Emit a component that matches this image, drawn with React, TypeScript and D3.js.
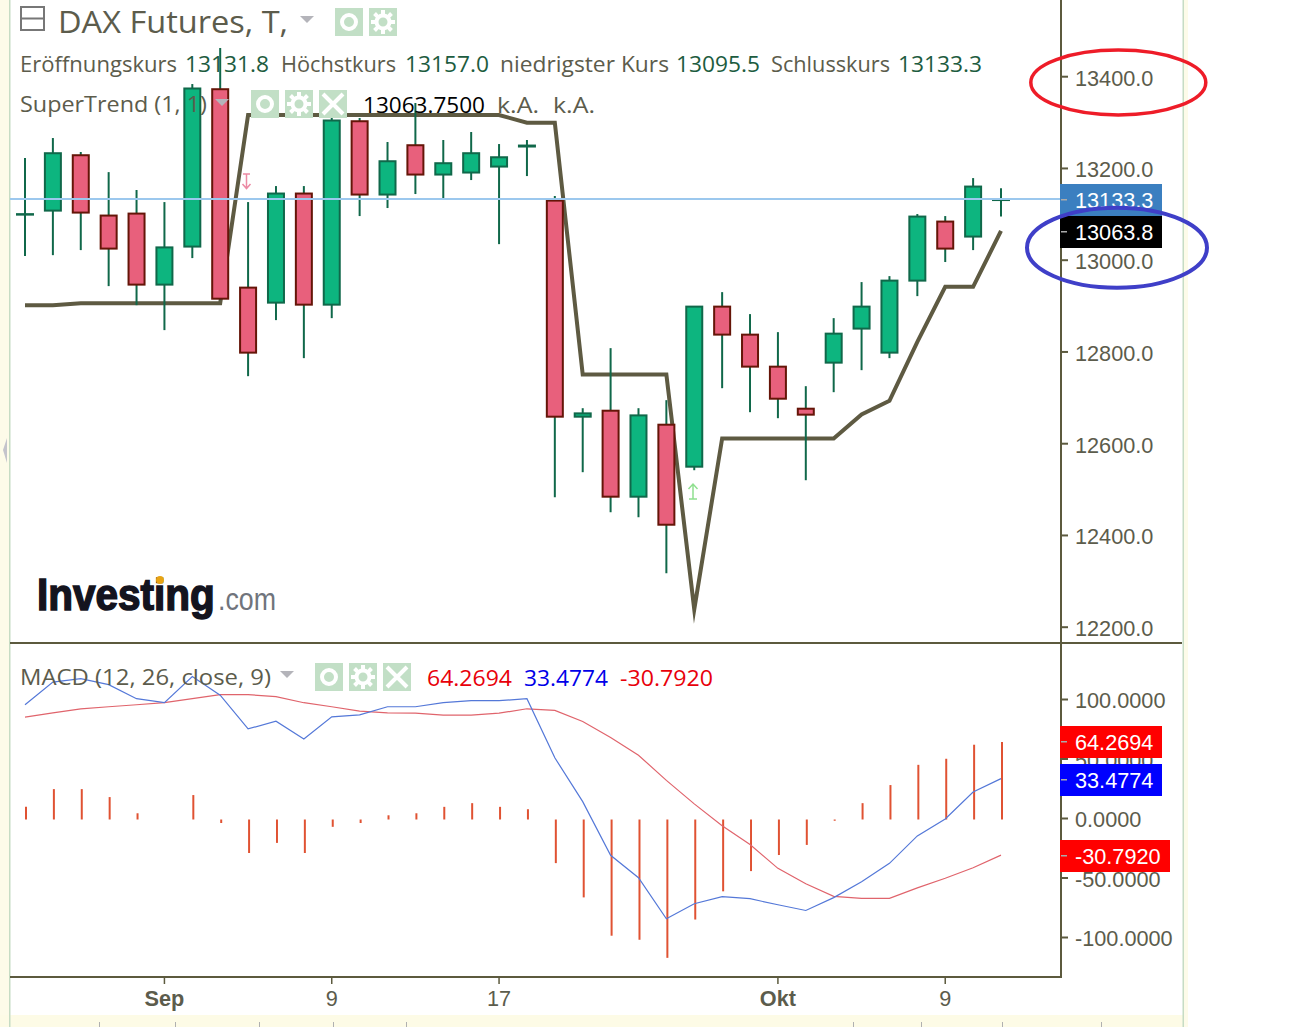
import React from "react";
import { scalePoint, scaleLinear, line, range } from "d3";

// daily candles
const opens = [13099.5, 13107, 13229.9, 13098.4, 13102.7, 12945.7, 13028.6, 13373.8, 12941.3, 12906.4, 13146.4, 12902, 13304, 13142, 13251.7, 13185.6, 13190, 13203, 13246.7, 13131, 12657.8, 12673, 12483.4, 12642.5, 12548.8, 12899.9, 12838.8, 12769, 12677.4, 12775.6, 12849.8, 12797.4, 12954.4, 13085.3, 13050.4, 13131.8];
const highs = [13222.7, 13266.3, 13235.8, 13192, 13153, 13126.7, 13384, 13462.6, 13126.7, 13161.6, 13161.6, 13316.5, 13310, 13257.6, 13342.7, 13262, 13279.4, 13253.2, 13262, 13139.8, 12677.4, 12808.3, 12677.4, 12694.9, 12899.9, 12930.4, 12882.5, 12843.2, 12725.4, 12873.7, 12952.3, 12965.3, 13100.6, 13096.2, 13179, 13157];
const lows = [13009, 13011, 13022, 12943.5, 12902, 12847.6, 13004.6, 12913, 12747.2, 12869.4, 12786.5, 12873.7, 13096.2, 13113.7, 13144.2, 13135.5, 13174.7, 13035, 13183.4, 12483.4, 12537.9, 12450.6, 12439.7, 12317.6, 12542.2, 12721, 12668.7, 12655.6, 12520.4, 12712.3, 12760.3, 12786.5, 12921.7, 12996, 13022, 13095.5];
const closes = [13101.5, 13234.3, 13102.7, 13024.2, 12945.7, 13029, 13375.4, 12915, 12797.4, 13146.4, 12902, 13305.6, 13142, 13216.8, 13185.6, 13212.5, 13234.3, 13225.5, 13251, 12657.8, 12667.2, 12483.4, 12662.8, 12422.3, 12899.9, 12836.7, 12766.9, 12697, 12662.2, 12841, 12899.9, 12956.6, 13096.2, 13024.2, 13161.6, 13133.3];
const superTrend = [12902, 12902, 12906.4, 12906.4, 12906.4, 12906.4, 12906.4, 12906.4, 13316.5, 13316.5, 13316.5, 13316.5, 13316.5, 13316.5, 13316.5, 13316.5, 13316.5, 13316.5, 13299.7, 13299.7, 12751, 12751, 12751, 12751, 12239, 12611.4, 12611.4, 12611.4, 12611.4, 12611.4, 12663.7, 12693.4, 12822, 12942, 12942, 13063.8];

const macdLine = [95.6, 114.6, 117.6, 112.5, 100.7, 97.3, 119.3, 103.6, 75.3, 81.8, 66.8, 85.4, 87.1, 93.9, 93.9, 97.3, 99, 99, 100.7, 51, 14.2, -30.9, -49.8, -84.3, -71.6, -65.7, -67.4, -72.5, -77.3, -66.5, -53.2, -37.7, -14.6, -0.4, 22.2, 33.4774];
const signalLine = [85.2, 88.8, 92.2, 93.9, 95.6, 97.3, 100.7, 104.1, 104.1, 102.4, 97.3, 93.9, 90.3, 88.8, 88.5, 86.9, 86.9, 88.5, 92.2, 90.8, 81.5, 68, 53.2, 32, 12.3, -6.1, -21.9, -41.9, -54.9, -65.4, -67.1, -67.1, -58.3, -50.2, -41.4, -30.792];
const histogram = [9.8, 24.7, 24.7, 18, 4.4, 0, 19.7, -3.8, -29, -20.5, -29, -7, -3.8, 2.7, 4.4, 9.8, 12.9, 9.8, 7.8, -37.5, -66.3, -98.5, -101.9, -117.1, -84.9, -61.2, -44.2, -30.7, -22.2, -1.9, 12.9, 28.1, 45.1, 50.2, 62, 64.2694];

const priceTicks = [13400, 13200, 13000, 12800, 12600, 12400, 12200];
const macdTicks = [100, 50, 0, -50, -100];
const dateTickIndexes = [5, 11, 17, 27, 33];
const dateTickLabels = ["Sep", "9", "17", "Okt", "9"];
const legendLabels = ["Eröffnungskurs", "13131.8", "Höchstkurs", "13157.0", "niedrigster Kurs", "13095.5", "Schlusskurs", "13133.3"];

const UI_FONT = "'Open Sans', 'Noto Sans', sans-serif";
const AXIS_FONT = "'Liberation Sans', Arial, sans-serif";
const OLIVE = "#5c5a3e";
const LABEL = "#5c5c4c";
const GREEN = "#0db57f";
const GREEN_EDGE = "#10684a";
const RED = "#e8607c";
const RED_EDGE = "#651508";
const ICON = "#c2dfc6";

const PANE_RIGHT = 1061;
const LEGEND_X = [20, 185, 281, 405, 500, 676, 771, 898];
const LEGEND_W = [157, 84, 115, 84, 169, 84, 119, 84];
const STRIP_MARKS = [99, 175, 259, 333, 406, 853, 921, 1002, 1101];

const indexes = range(opens.length);

const x = scalePoint<number>().domain(indexes).range([25, 1001]);
const yPrice = scaleLinear().domain([12200, 13400]).range([627.2, 76.7]);
const yMacd = scaleLinear().domain([-100, 100]).range([937.5, 699.5]);

const trendPath = line<number>().x((_, i) => x(i)!).y((d) => yPrice(d));
const macdPath = line<number>().x((_, i) => x(i)!).y((d) => yMacd(d));

function IconSquare({ x: left, y, kind }: { x: number; y: number; kind: "eye" | "gear" | "close" }) {
  const cx = left + 14;
  const cy = y + 14;
  return (
    <g>
      <rect x={left} y={y} width={28} height={28} fill={ICON} />
      {kind === "eye" && <circle cx={cx} cy={cy} r={7} fill="none" stroke="#fff" strokeWidth={4} />}
      {kind === "gear" && (
        <g>
          <circle cx={cx} cy={cy} r={6.5} fill="none" stroke="#fff" strokeWidth={4} />
          {range(8).map((k) => (
            <rect key={k} x={cx - 2} y={cy - 12} width={4} height={5} fill="#fff" transform={`rotate(${k * 45} ${cx} ${cy})`} />
          ))}
        </g>
      )}
      {kind === "close" && (
        <path d={`M${left + 4} ${y + 4}L${left + 24} ${y + 24}M${left + 24} ${y + 4}L${left + 4} ${y + 24}`} stroke="#fff" strokeWidth={4} />
      )}
    </g>
  );
}

function Caret({ x: left, y }: { x: number; y: number }) {
  return <path d={`M${left} ${y}h14l-7 7z`} fill="#b4b4ba" />;
}

function PriceTag({ y, width, fill, text }: { y: number; width: number; fill: string; text: string }) {
  return (
    <g>
      <rect x={1060} y={y} width={width} height={32} fill={fill} />
      <rect x={1061} y={y + 15} width={6} height={1.5} fill="#aaa" />
      <text x={1075} y={y + 24} fontSize={21.7} fontFamily={AXIS_FONT} fill="#fff">{text}</text>
    </g>
  );
}

export default function App() {
  return (
    <svg
      width={1301}
      height={1027}
      style={{ position: "absolute", left: 0, top: 0, display: "block", background: "#fff" }}
    >
      {/* page surround */}
      <rect x={0} y={0} width={9} height={1027} fill="#fdfbe9" />
      <rect x={0} y={1015} width={1185} height={12} fill="#fdfbe6" />
      <rect x={1184} y={0} width={4} height={1027} fill="#fdfbe9" />
      <rect x={9} y={0} width={1.5} height={1027} fill="#c6dcc4" />
      <rect x={1182.5} y={0} width={1.5} height={1027} fill="#c6dcc4" />
      <path d="M3 450L7 438V463z" fill="#c4c4cc" />
      {STRIP_MARKS.map((m) => (
        <rect key={m} x={m} y={1022} width={1} height={5} fill="#b0b0b0" />
      ))}

      {/* logo */}
      <text transform="translate(37 610) scale(1 1.08)" fontFamily={AXIS_FONT} fontWeight={700} fontSize={40.5} fill="#14141e" stroke="#14141e" strokeWidth={1.4}>
        Investing
      </text>
      <text x={218} y={610} fontFamily={AXIS_FONT} fontSize={31} fill="#70747c" textLength={58} lengthAdjust="spacingAndGlyphs">
        .com
      </text>
      <circle cx={160} cy={580} r={4} fill="#e8a414" />

      {/* price pane */}
      <path d={trendPath(superTrend)!} fill="none" stroke="#5e5a42" strokeWidth={4} strokeLinejoin="miter" strokeMiterlimit={12} />
      {indexes.map((i) => {
        const up = closes[i] >= opens[i];
        const top = yPrice(Math.max(opens[i], closes[i]));
        const bottom = yPrice(Math.min(opens[i], closes[i]));
        return (
          <g key={i}>
            <line x1={x(i)} x2={x(i)} y1={yPrice(highs[i])} y2={yPrice(lows[i])} stroke={GREEN_EDGE} strokeWidth={2} />
            <rect
              x={x(i)! - 8}
              y={top + 0.5}
              width={16}
              height={Math.max(bottom - top - 1, 0.5)}
              fill={up ? GREEN : RED}
              stroke={up ? GREEN_EDGE : RED_EDGE}
              strokeWidth={2}
            />
          </g>
        );
      })}
      <line x1={10} x2={PANE_RIGHT + 6} y1={yPrice(closes[35])} y2={yPrice(closes[35])} stroke="#9cc8ee" strokeWidth={2} />

      {/* signal arrows */}
      <path d="M243 174h7M246.5 174v14M242.5 184l4 4.5 4-4.5" fill="none" stroke="#ec8aa4" strokeWidth={1.5} />
      <path d="M689 499h8M693 499v-14M688.5 489l4.5-5 4.5 5" fill="none" stroke="#90e090" strokeWidth={1.5} />

      {/* legends */}
      <path d="M21 7h23v23h-23zM21 18.5h23" fill="none" stroke="#777" strokeWidth={2} />
      <text x={58} y={33} fontFamily={UI_FONT} fontSize={31} fill={LABEL} textLength={230} lengthAdjust="spacingAndGlyphs">DAX Futures, T,</text>
      <Caret x={300} y={16} />
      <IconSquare x={335} y={8} kind="eye" />
      <IconSquare x={369} y={8} kind="gear" />
      {legendLabels.map((d, i) => (
        <text key={i} x={LEGEND_X[i]} y={72} fontFamily={UI_FONT} fontSize={22} fill={i % 2 ? "#1d5c40" : LABEL} textLength={LEGEND_W[i]} lengthAdjust="spacingAndGlyphs">{d}</text>
      ))}
      <text x={20} y={112} fontFamily={UI_FONT} fontSize={22} fill={LABEL} textLength={187} lengthAdjust="spacingAndGlyphs">SuperTrend (1, 1)</text>
      <Caret x={215} y={99} />
      <IconSquare x={251} y={90} kind="eye" />
      <IconSquare x={285} y={90} kind="gear" />
      <IconSquare x={319} y={90} kind="close" />
      <text x={363} y={113} fontFamily={UI_FONT} fontSize={22} fill="#000" textLength={122} lengthAdjust="spacingAndGlyphs">13063.7500</text>
      <text x={497} y={113} fontFamily={UI_FONT} fontSize={22} fill={LABEL} textLength={42} lengthAdjust="spacingAndGlyphs">k.A.</text>
      <text x={553} y={113} fontFamily={UI_FONT} fontSize={22} fill={LABEL} textLength={42} lengthAdjust="spacingAndGlyphs">k.A.</text>

      {/* macd pane */}
      {indexes.filter((i) => histogram[i] !== 0).map((i) => (
        <line key={i} x1={x(i)! + 1} x2={x(i)! + 1} y1={yMacd(0) + 1} y2={yMacd(histogram[i])} stroke="#e05232" strokeWidth={2} />
      ))}
      <path d={macdPath(signalLine)!} fill="none" stroke="#e0646c" strokeWidth={1.2} />
      <path d={macdPath(macdLine)!} fill="none" stroke="#5478d8" strokeWidth={1.2} />
      <text x={20} y={685} fontFamily={UI_FONT} fontSize={22} fill={LABEL} textLength={251} lengthAdjust="spacingAndGlyphs">MACD (12, 26, close, 9)</text>
      <Caret x={280} y={671} />
      <IconSquare x={315} y={663} kind="eye" />
      <IconSquare x={349} y={663} kind="gear" />
      <IconSquare x={383} y={663} kind="close" />
      <text x={427} y={686} fontFamily={UI_FONT} fontSize={22} fill="#e8000a" textLength={85} lengthAdjust="spacingAndGlyphs">64.2694</text>
      <text x={524} y={686} fontFamily={UI_FONT} fontSize={22} fill="#0000e8" textLength={84} lengthAdjust="spacingAndGlyphs">33.4774</text>
      <text x={620} y={686} fontFamily={UI_FONT} fontSize={22} fill="#e8000a" textLength={93} lengthAdjust="spacingAndGlyphs">-30.7920</text>

      {/* frame */}
      <line x1={PANE_RIGHT} x2={PANE_RIGHT} y1={0} y2={978} stroke={OLIVE} strokeWidth={2} />
      <line x1={10} x2={1182} y1={643} y2={643} stroke={OLIVE} strokeWidth={2} />
      <line x1={10} x2={PANE_RIGHT + 1} y1={977} y2={977} stroke={OLIVE} strokeWidth={2} />

      {/* right axes */}
      {priceTicks.map((t) => (
        <g key={t}>
          <line x1={PANE_RIGHT} x2={PANE_RIGHT + 7} y1={yPrice(t)} y2={yPrice(t)} stroke={OLIVE} strokeWidth={2} />
          <text x={1075} y={yPrice(t) + 9} fontFamily={AXIS_FONT} fontSize={21.7} fill={LABEL}>{t.toFixed(1)}</text>
        </g>
      ))}
      {macdTicks.map((t) => (
        <g key={t}>
          <line x1={PANE_RIGHT} x2={PANE_RIGHT + 7} y1={yMacd(t)} y2={yMacd(t)} stroke={OLIVE} strokeWidth={2} />
          <text x={1075} y={yMacd(t) + 8.5} fontFamily={AXIS_FONT} fontSize={21.7} fill={LABEL}>{t.toFixed(4)}</text>
        </g>
      ))}
      <PriceTag y={184} width={102} fill="#3b7fc0" text={closes[35].toFixed(1)} />
      <PriceTag y={216} width={102} fill="#000" text={superTrend[35].toFixed(1)} />
      <PriceTag y={726} width={102} fill="#ff0000" text={histogram[35].toFixed(4)} />
      <PriceTag y={764} width={102} fill="#0000ff" text={macdLine[35].toFixed(4)} />
      <PriceTag y={840} width={110} fill="#ff0000" text={signalLine[35].toFixed(4)} />

      {/* date axis */}
      {dateTickIndexes.map((d, i) => (
        <g key={d}>
          <line x1={x(d)} x2={x(d)} y1={977} y2={984} stroke={OLIVE} strokeWidth={1.5} />
          <text x={x(d)} y={1006} textAnchor="middle" fontFamily={AXIS_FONT} fontSize={21.7} fontWeight={isNaN(+dateTickLabels[i]) ? 700 : 400} fill={LABEL}>
            {dateTickLabels[i]}
          </text>
        </g>
      ))}

      {/* hand drawn marks over the axis */}
      <ellipse cx={1118.3} cy={82.5} rx={87.5} ry={32.5} fill="none" stroke="#ee1c28" strokeWidth={3.5} />
      <ellipse cx={1117} cy={247.7} rx={90} ry={40} fill="none" stroke="#3f3fc8" strokeWidth={4} />
    </svg>
  );
}
